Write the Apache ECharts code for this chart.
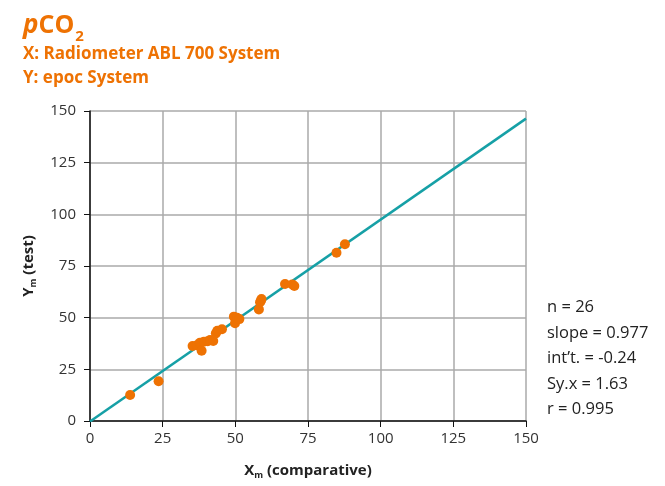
<!DOCTYPE html>
<html lang="en">
<head>
  <meta charset="UTF-8">
  <title>pCO2</title>
  <script src="https://cdn.jsdelivr.net/npm/echarts@6/dist/echarts.min.js"></script>
  <style>
    * { margin: 0; padding: 0; }
    body { background: #fff; }
    #main { width: 665px; height: 486px; }
  </style>
</head>
<body>
  <div id="main"></div>
  <script>
    // comparative (x) vs epoc (y) values
    var xVals = [13.8, 23.6, 35.3, 36.8, 37.8, 38.4, 39.2, 40.5, 41.3, 42.4, 43.3, 43.8, 45.4,
                 49.5, 49.9, 50.6, 51.4, 58.1, 58.5, 58.8, 59.0, 67.1, 69.6, 70.3, 84.8, 87.7];
    var yVals = [12.6, 19.2, 36.3, 36.6, 37.9, 34.0, 38.4, 38.6, 39.2, 38.7, 42.4, 43.7, 44.4,
                 50.5, 47.3, 50.0, 49.3, 54.0, 57.5, 58.2, 59.0, 66.3, 66.1, 65.3, 81.4, 85.5];
    var slope = 0.977;
    var intercept = -0.24;
    var statLines = ['n = 26', 'slope = 0.977', 'int\u2019t. = -0.24', 'Sy.x = 1.63', 'r = 0.995'];

    var points = xVals.map(function (x, i) { return [x, yVals[i]]; });
    var fitLine = [[0, intercept], [150, slope * 150 + intercept]];

    var orange = '#ee7203';
    var font = '"Open Sans", "Noto Sans", sans-serif';

    var chart = echarts.init(document.getElementById('main'));
    var option = {
      animation: false,
      textStyle: { fontFamily: font },
      title: [
        {
          left: 18, top: 2,
          text: '{p|p}{n|CO}{s|2}',
          textStyle: {
            rich: {
              p: { fontSize: 26, fontStyle: 'italic', color: orange, fontFamily: font },
              n: { fontSize: 25, color: orange, fontFamily: font },
              s: { fontSize: 15, color: orange, fontFamily: font, verticalAlign: 'bottom', padding: [22, 0, 0, 1] }
            }
          }
        },
        {
          left: 18, top: 37,
          text: 'X: Radiometer ABL 700 System\nY: epoc System',
          textStyle: { color: orange, fontSize: 17, fontWeight: 'bold', lineHeight: 24, fontFamily: font }
        },
        {
          left: 542, top: 290,
          text: statLines.join('\n'),
          textStyle: { color: '#222', fontSize: 16.5, fontWeight: 'normal', lineHeight: 25.5, fontFamily: font }
        }
      ],
      grid: { left: 90, right: 139, top: 111, bottom: 65 },
      xAxis: {
        type: 'value', min: 0, max: 150, interval: 25,
        name: '{b|X}{m|m}{b| (comparative)}',
        nameLocation: 'middle', nameGap: 40,
        nameTextStyle: {
          rich: {
            b: { fontSize: 15, fontWeight: 'bold', color: '#222', fontFamily: font },
            m: { fontSize: 9, fontWeight: 'bold', color: '#222', fontFamily: font, padding: [10, 0, 0, 0] }
          }
        },
        axisLine: { lineStyle: { color: '#111', width: 1.5 } },
        axisTick: { show: true, length: 6, lineStyle: { color: '#111' } },
        axisLabel: { color: '#333', fontSize: 15, margin: 10 },
        splitLine: { lineStyle: { color: '#aaa', width: 1.5 } }
      },
      yAxis: {
        type: 'value', min: 0, max: 150, interval: 25,
        name: '{b|Y}{m|m}{b| (test)}',
        nameLocation: 'middle', nameGap: 52, nameRotate: 90,
        nameTextStyle: {
          rich: {
            b: { fontSize: 15, fontWeight: 'bold', color: '#222', fontFamily: font },
            m: { fontSize: 9, fontWeight: 'bold', color: '#222', fontFamily: font, padding: [10, 0, 0, 0] }
          }
        },
        axisLine: { show: true, lineStyle: { color: '#111', width: 1.5 } },
        axisTick: { show: true, length: 6, lineStyle: { color: '#111' } },
        axisLabel: { color: '#333', fontSize: 15, margin: 14 },
        splitLine: { lineStyle: { color: '#aaa', width: 1.5 } }
      },
      series: [
        {
          type: 'line',
          data: fitLine,
          showSymbol: false,
          lineStyle: { color: '#16a0a6', width: 2.5 },
          z: 2
        },
        {
          type: 'scatter',
          data: points,
          symbolSize: 10,
          itemStyle: { color: orange, opacity: 1 },
          z: 3
        }
      ]
    };
    chart.setOption(option);
  </script>
</body>
</html>
